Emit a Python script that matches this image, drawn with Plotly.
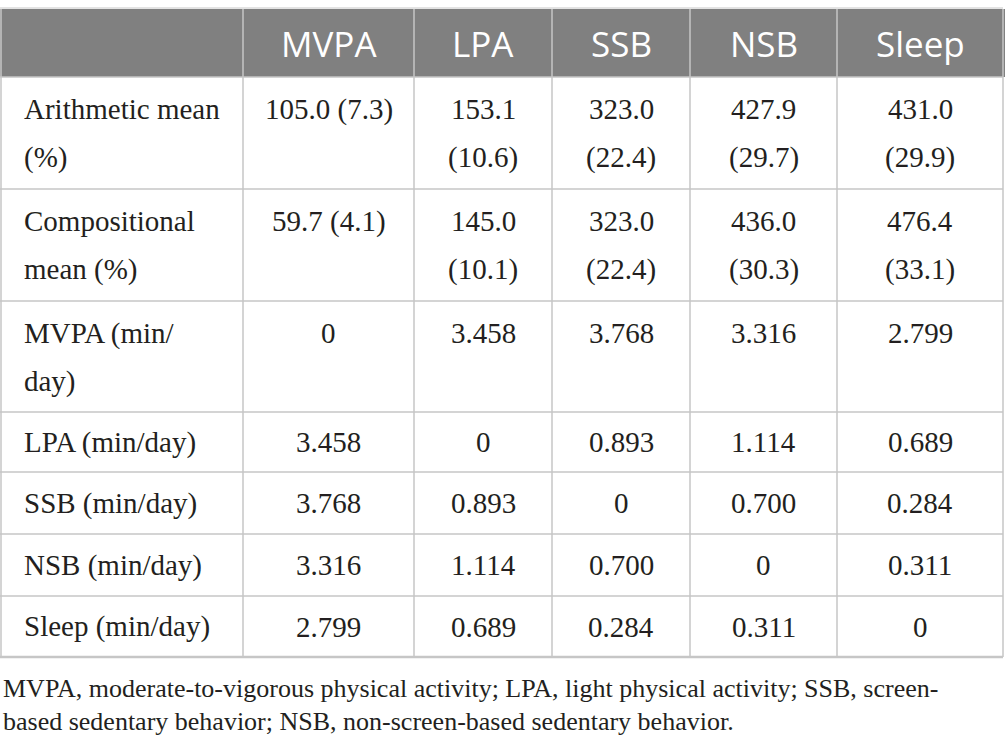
"""Compositional descriptives and pairwise log-ratio variation table"""

import plotly.graph_objects as go

COLUMNS = ['MVPA', 'LPA', 'SSB', 'NSB', 'Sleep']

ARITH_MEAN = [105.0, 153.1, 323.0, 427.9, 431.0]
ARITH_PCT = [7.3, 10.6, 22.4, 29.7, 29.9]
COMP_MEAN = [59.7, 145.0, 323.0, 436.0, 476.4]
COMP_PCT = [4.1, 10.1, 22.4, 30.3, 33.1]

ROW_LABELS = [
    ['Arithmetic mean', '(%)'],
    ['Compositional', 'mean (%)'],
    ['MVPA (min/', 'day)'],
    ['LPA (min/day)'],
    ['SSB (min/day)'],
    ['NSB (min/day)'],
    ['Sleep (min/day)'],
]

VARIATION = [
    [0, 3.458, 3.768, 3.316, 2.799],
    [3.458, 0, 0.893, 1.114, 0.689],
    [3.768, 0.893, 0, 0.700, 0.284],
    [3.316, 1.114, 0.700, 0, 0.311],
    [2.799, 0.689, 0.284, 0.311, 0],
]

FOOTNOTE = [
    'MVPA, moderate-to-vigorous physical activity; LPA, light physical activity; SSB, screen-',
    'based sedentary behavior; NSB, non-screen-based sedentary behavior.',
]

# layout geometry (pixels)
W, H = 1005, 751
COL_EDGES = [1, 243, 414, 552, 690, 837, 1003]
HEADER_TOP, HEADER_BOT = 9, 77
ROW_EDGES = [77, 189, 301, 412, 472, 534, 596, 657]
LINE_GAP = 48
GRID = '#c6c6c6'
TEXT = '#231f20'
SERIF = 'Liberation Serif, Times New Roman, serif'
SANS = 'Open Sans, Noto Sans, sans-serif'


def fmt_mean(m, p):
    return f'{m:.1f} ({p:.1f})'


def fmt_var(v):
    return '0' if v == 0 else f'{v:.3f}'


# body cells: list of rows, each a list of cells (list of text lines)
body = []
for means, pcts in [(ARITH_MEAN, ARITH_PCT), (COMP_MEAN, COMP_PCT)]:
    row = []
    for j, (m, p) in enumerate(zip(means, pcts)):
        txt = fmt_mean(m, p)
        row.append([txt] if j == 0 else txt.split(' '))
    body.append(row)
for vals in VARIATION:
    body.append([[fmt_var(v)] for v in vals])

fig = go.Figure()

shapes = []
shapes.append(dict(type='rect', x0=0, x1=W, y0=HEADER_TOP, y1=HEADER_BOT,
                   fillcolor='#808080', line=dict(width=0), layer='below'))
shapes.append(dict(type='line', x0=0, x1=COL_EDGES[-1], y0=HEADER_TOP - 1,
                   y1=HEADER_TOP - 1, line=dict(color=GRID, width=1)))
for x in COL_EDGES:
    shapes.append(dict(type='line', x0=x, x1=x, y0=HEADER_TOP, y1=ROW_EDGES[-1],
                       line=dict(color=GRID, width=1.5)))
for i, y in enumerate(ROW_EDGES):
    last = i == len(ROW_EDGES) - 1
    shapes.append(dict(type='line', x0=0, x1=COL_EDGES[-1], y0=y, y1=y,
                       line=dict(color=GRID, width=2.5 if last else 1.5)))

annotations = []
hy = (HEADER_TOP + HEADER_BOT) / 2
for j, name in enumerate(COLUMNS):
    cx = (COL_EDGES[j + 1] + COL_EDGES[j + 2]) / 2
    annotations.append(dict(x=cx, y=hy, text=name, showarrow=False,
                            xanchor='center', yanchor='middle',
                            font=dict(family=SANS, size=35, color='white')))

for i, label in enumerate(ROW_LABELS):
    top = ROW_EDGES[i]
    wrapped = len(label) > 1 or any(len(c) > 1 for c in body[i])
    y0 = top + 32 if wrapped else (ROW_EDGES[i] + ROW_EDGES[i + 1]) / 2
    for k, line in enumerate(label):
        annotations.append(dict(x=22, y=y0 + k * LINE_GAP, text=line, showarrow=False,
                                xanchor='left', yanchor='middle',
                                font=dict(family=SERIF, size=29, color=TEXT)))
    for j, cell in enumerate(body[i]):
        cx = (COL_EDGES[j + 1] + COL_EDGES[j + 2]) / 2
        for k, line in enumerate(cell):
            annotations.append(dict(x=cx, y=y0 + k * LINE_GAP, text=line, showarrow=False,
                                    xanchor='center', yanchor='middle',
                                    font=dict(family=SERIF, size=29, color=TEXT)))

for k, line in enumerate(FOOTNOTE):
    annotations.append(dict(x=1, y=688 + k * 33, text=line, showarrow=False,
                            xanchor='left', yanchor='middle',
                            font=dict(family=SERIF, size=26, color=TEXT)))

fig.update_layout(
    width=W,
    height=H,
    margin=dict(l=0, r=0, t=0, b=0),
    plot_bgcolor='white',
    paper_bgcolor='white',
    xaxis=dict(range=[0, W], visible=False, fixedrange=True),
    yaxis=dict(range=[H, 0], visible=False, fixedrange=True),
    shapes=shapes,
    annotations=annotations,
    showlegend=False,
)

# drop the page's default body margin so the figure sits at the window corner
fig.write_html('out.html', config={'displayModeBar': False},
               post_script="document.body.style.margin = '0';")
